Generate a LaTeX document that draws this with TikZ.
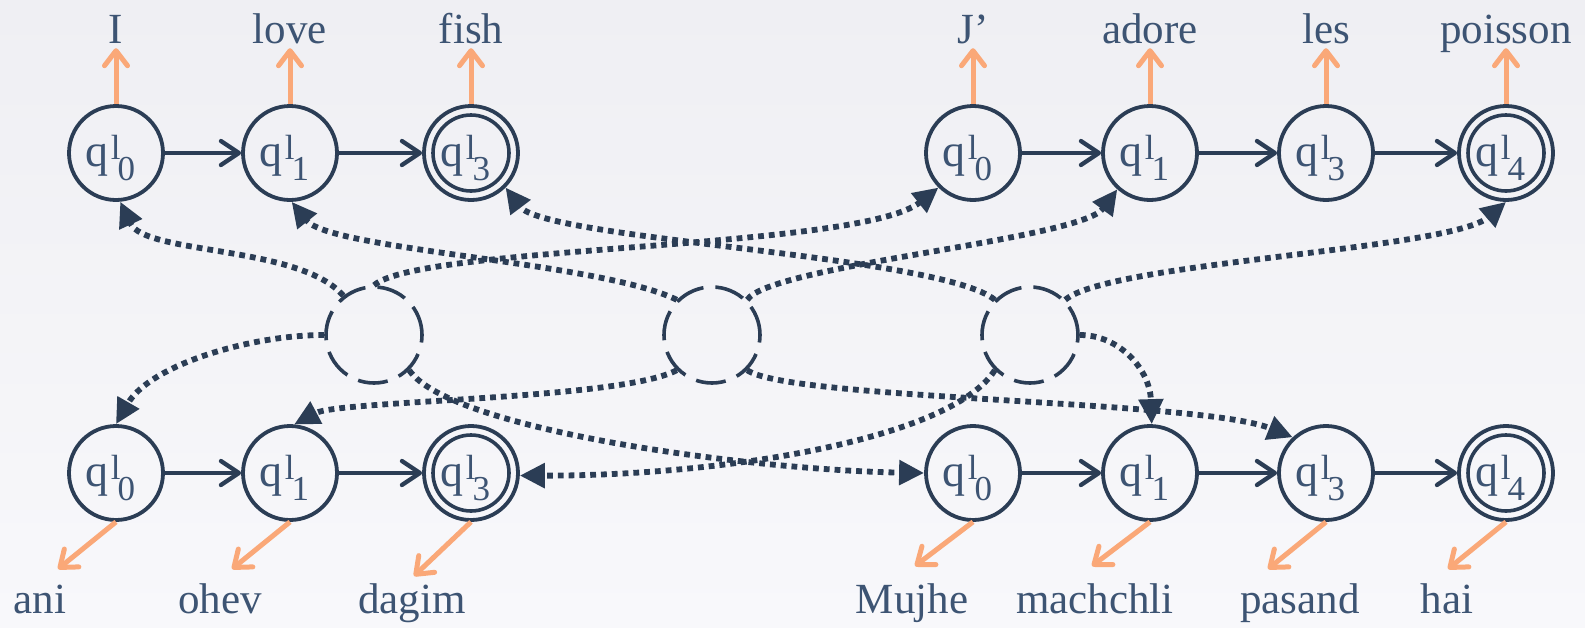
\documentclass[tikz,border=0pt]{standalone}
\usepackage{fontspec}
\setmainfont{Liberation Serif}
\usetikzlibrary{arrows.meta}

\definecolor{ink}{HTML}{2B3D55}
\definecolor{txt}{HTML}{3D5473}
\definecolor{peach}{HTML}{FAA878}
\definecolor{bgtop}{HTML}{EFEFF3}
\definecolor{bgbot}{HTML}{F8F8FB}

% state label q^l_i
\newcommand{\qst}[1]{{\fontsize{46}{46}\selectfont q}\kern2pt\raisebox{7pt}{\fontsize{35}{35}\selectfont l}\kern-3pt\raisebox{-14pt}{\fontsize{35}{35}\selectfont #1}\kern11pt}

\tikzset{
  state/.style={circle, draw=ink, line width=3.8pt, minimum size=94pt, inner sep=0pt,
    text=txt, text height=38pt, text depth=11pt},
  accept/.style={state, path picture={\draw[ink, line width=3.6pt]
    (path picture bounding box.center) circle (38pt);}},
  hub/.style={circle, draw=ink, line width=3.6pt, minimum size=96pt, inner sep=0pt,
    dash pattern=on 30pt off 12pt},
  chain/.style={draw=ink, line width=4.3pt, -{Straight Barb[length=18pt,width=24pt,round]}},
  link/.style={draw=ink, line width=5.8pt, dash pattern=on 5.8pt off 5pt,
    -{Triangle[length=25pt,width=24pt]}},
  word/.style={text=txt, font=\fontsize{43}{43}\selectfont, inner sep=0pt,
    text depth=0pt, anchor=base},
  gloss/.style={draw=peach, line width=5pt, -{Straight Barb[length=15pt,width=23pt,round]}},
}

\begin{document}
\begin{tikzpicture}[x=1pt,y=-1pt]
% backdrop
\fill[top color=bgtop, bottom color=bgbot] (0,0) rectangle (1585,627);
\useasboundingbox (0,0) rectangle (1585,627);

% English automaton
\node[state]  (tl0) at (116,153) {\qst{0}};
\node[state]  (tl1) at (290,153) {\qst{1}};
\node[accept] (tl2) at (471,153) {\qst{3}};
% French automaton
\node[state]  (tr0) at (973,153) {\qst{0}};
\node[state]  (tr1) at (1150,153) {\qst{1}};
\node[state]  (tr2) at (1326,153) {\qst{3}};
\node[accept] (tr3) at (1506,153) {\qst{4}};
% Hebrew automaton
\node[state]  (bl0) at (116,473) {\qst{0}};
\node[state]  (bl1) at (290,473) {\qst{1}};
\node[accept] (bl2) at (471,473) {\qst{3}};
% Hindi automaton
\node[state]  (br0) at (973,473) {\qst{0}};
\node[state]  (br1) at (1150,473) {\qst{1}};
\node[state]  (br2) at (1326,473) {\qst{3}};
\node[accept] (br3) at (1506,473) {\qst{4}};

% shared interlingual states
\node[hub] (hA) at (374,335) {};
\node[hub] (hB) at (712,335) {};
\node[hub] (hC) at (1030,335) {};

% transitions
\draw[chain] (tl0) -- (tl1);
\draw[chain] (tl1) -- (tl2);
\draw[chain] (tr0) -- (tr1);
\draw[chain] (tr1) -- (tr2);
\draw[chain] (tr2) -- (tr3);
\draw[chain] (bl0) -- (bl1);
\draw[chain] (bl1) -- (bl2);
\draw[chain] (br0) -- (br1);
\draw[chain] (br1) -- (br2);
\draw[chain] (br2) -- (br3);

% alignment links
\draw[link] (hA.128) .. controls (300,245) and (145,255) .. (tl0.-85);
\draw[link] (hA.180) .. controls (250,335) and (150,365) .. (bl0.90);
\draw[link] (hA.90) .. controls (420,245) and (860,250) .. (tr0.-135);
\draw[link] (hA.-45) .. controls (450,430) and (750,470) .. (br0.west);
\draw[link] (hB.135) .. controls (600,262) and (330,250) .. (tl1.-88);
\draw[link] (hB.-135) .. controls (620,400) and (340,400) .. (bl1.85);
\draw[link] (hB.45) .. controls (770,265) and (1080,240) .. (tr1.-132);
\draw[link] (hB.-45) .. controls (790,400) and (1200,400) .. (br2.133);
\draw[link] (hC.135) .. controls (940,255) and (545,240) .. (tl2.-45);
\draw[link] (hC.-135) .. controls (950,440) and (720,476) .. (bl2.-3);
\draw[link] (hC.45) .. controls (1110,262) and (1450,250) .. (tr3.-90);
\draw[link] (hC.0) .. controls (1120,335) and (1150,370) .. (br1.88);

% emitted words, top
\node[word] (wI)   at (116,43) {I};
\node[word] (wlove) at (290,43) {love};
\node[word] (wfish) at (471,43) {fish};
\node[word] (wJ)   at (973,43) {J’};
\node[word] (wadore) at (1150,43) {adore};
\node[word] (wles) at (1326,43) {les};
\node[word] (wpoisson) at (1506,43) {poisson};
\foreach \s/\w in {tl0/wI, tl1/wlove, tl2/wfish, tr0/wJ, tr1/wadore, tr2/wles, tr3/wpoisson}
  \draw[gloss, shorten >=5pt] (\s.north) -- (\w.south);

% emitted words, bottom
\node[word] (wani)   at (40,613) {ani};
\node[word] (wohev)  at (220,613) {ohev};
\node[word] (wdagim) at (412,613) {dagim};
\node[word] (wmujhe) at (912,613) {Mujhe};
\node[word] (wmach)  at (1095,613) {machchli};
\node[word] (wpas)   at (1300,613) {pasand};
\node[word] (whai)   at (1447,613) {hai};
\coordinate (ebl0) at (58,569);
\coordinate (ebl1) at (232,569);
\coordinate (ebl2) at (414,576);
\coordinate (ebr0) at (915,566);
\coordinate (ebr1) at (1092,566);
\coordinate (ebr2) at (1268,569);
\coordinate (ebr3) at (1448,569);
\foreach \s in {bl0, bl1, bl2, br0, br1, br2, br3}
  \draw[gloss] (\s.south) -- (e\s);
\end{tikzpicture}
\end{document}
